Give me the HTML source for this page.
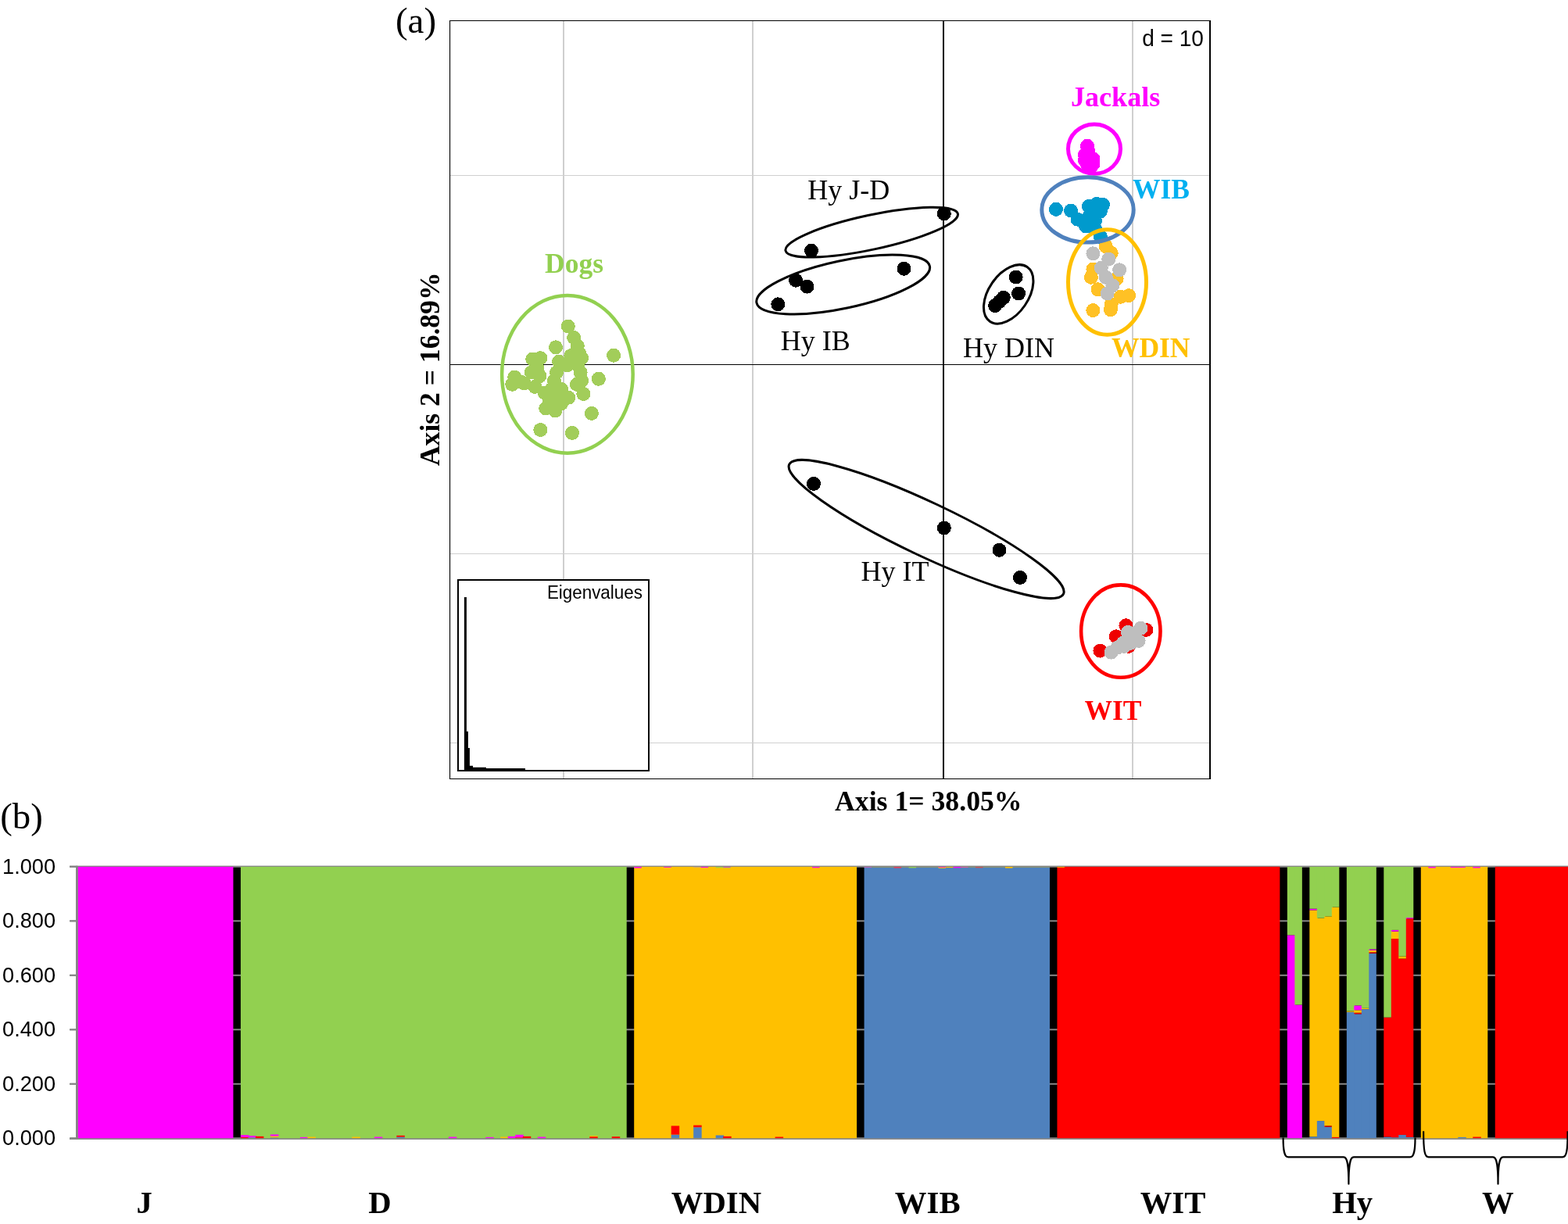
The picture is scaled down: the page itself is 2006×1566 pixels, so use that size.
<!DOCTYPE html>
<html lang="en">
<head>
<meta charset="utf-8">
<title>Figure: PCA and Bayesian assignment</title>
<style>
html,body{margin:0;padding:0;background:#fff;}
body{width:2006px;height:1566px;overflow:hidden;}
svg{display:block;}
text{white-space:pre;}
</style>
</head>
<body>
<svg width="2006" height="1566" viewBox="0 0 2006 1566">
<rect width="2006" height="1566" fill="#fff"/>
<g id="panel-a">
<rect x="720" y="27" width="2" height="969" fill="#cfcfcf"/>
<rect x="962" y="27" width="2" height="969" fill="#cfcfcf"/>
<rect x="1448" y="27" width="2" height="969" fill="#cfcfcf"/>
<rect x="576" y="224" width="971" height="1" fill="#d0d0d0"/>
<rect x="576" y="708" width="971" height="1" fill="#d0d0d0"/>
<rect x="576" y="950" width="971" height="1" fill="#d0d0d0"/>
<rect x="1206" y="27" width="2" height="969" fill="#000"/>
<rect x="576" y="466" width="971" height="1" fill="#000"/>
<rect x="575" y="26" width="974" height="1" fill="#000"/>
<rect x="575" y="996" width="974" height="1" fill="#000"/>
<rect x="575" y="26" width="1.1" height="971" fill="#000"/>
<rect x="1547" y="26" width="2" height="971" fill="#000"/>
<g fill="#a2cd5a" shape-rendering="crispEdges"><circle cx="726.8" cy="417.5" r="9.0"/><circle cx="711.0" cy="444.3" r="9.0"/><circle cx="785.1" cy="454.7" r="9.0"/><circle cx="765.9" cy="484.7" r="9.0"/><circle cx="756.9" cy="528.9" r="9.0"/><circle cx="691.4" cy="550.0" r="9.0"/><circle cx="732.0" cy="553.9" r="9.0"/><circle cx="734.2" cy="432.0" r="9.0"/><circle cx="738.8" cy="442.8" r="9.0"/><circle cx="741.1" cy="452.0" r="9.0"/><circle cx="744.1" cy="458.1" r="9.0"/><circle cx="730.3" cy="455.0" r="9.0"/><circle cx="715.0" cy="462.7" r="9.0"/><circle cx="725.7" cy="467.3" r="9.0"/><circle cx="739.5" cy="467.3" r="9.0"/><circle cx="742.6" cy="476.5" r="9.0"/><circle cx="744.1" cy="487.2" r="9.0"/><circle cx="738.0" cy="491.8" r="9.0"/><circle cx="746.4" cy="504.0" r="9.0"/><circle cx="712.0" cy="476.5" r="9.0"/><circle cx="708.9" cy="487.2" r="9.0"/><circle cx="681.3" cy="459.6" r="9.0"/><circle cx="691.3" cy="458.1" r="9.0"/><circle cx="687.4" cy="470.3" r="9.0"/><circle cx="679.8" cy="476.5" r="9.0"/><circle cx="690.5" cy="481.1" r="9.0"/><circle cx="658.3" cy="482.6" r="9.0"/><circle cx="655.2" cy="491.8" r="9.0"/><circle cx="666.0" cy="488.7" r="9.0"/><circle cx="670.6" cy="490.3" r="9.0"/><circle cx="684.4" cy="494.9" r="9.0"/><circle cx="696.6" cy="502.5" r="9.0"/><circle cx="705.8" cy="497.9" r="9.0"/><circle cx="718.1" cy="497.9" r="9.0"/><circle cx="727.3" cy="508.7" r="9.0"/><circle cx="715.0" cy="510.2" r="9.0"/><circle cx="702.8" cy="511.7" r="9.0"/><circle cx="698.2" cy="522.5" r="9.0"/><circle cx="710.4" cy="525.5" r="9.0"/><circle cx="718.1" cy="516.3" r="9.0"/></g>
<ellipse cx="725.9" cy="478.8" rx="83.8" ry="100.9" fill="none" stroke="#92d050" stroke-width="4.5"/>
<text x="734.5" y="348.6" font-family='"Liberation Serif", "DejaVu Serif", serif' font-size="35.5" font-weight="bold" fill="#92d050" text-anchor="middle">Dogs</text>
<g fill="#ff00ff" shape-rendering="crispEdges"><circle cx="1391.0" cy="186.8" r="9.0"/><circle cx="1392.0" cy="193.0" r="9.0"/><circle cx="1388.0" cy="198.0" r="9.0"/><circle cx="1388.0" cy="205.0" r="9.0"/><circle cx="1394.0" cy="203.0" r="9.0"/><circle cx="1398.3" cy="203.0" r="9.0"/><circle cx="1398.3" cy="210.0" r="9.0"/><circle cx="1391.0" cy="210.0" r="9.0"/><circle cx="1396.0" cy="213.2" r="9.0"/></g>
<ellipse cx="1400.0" cy="190.6" rx="33.5" ry="31.7" fill="none" stroke="#ff00ff" stroke-width="5.0"/>
<text x="1427.1" y="135.6" font-family='"Liberation Serif", "DejaVu Serif", serif' font-size="35.0" font-weight="bold" fill="#ff00ff" text-anchor="middle" textLength="114.4" lengthAdjust="spacingAndGlyphs">Jackals</text>
<g fill="#009acd" shape-rendering="crispEdges"><circle cx="1351.0" cy="267.8" r="9.0"/><circle cx="1370.0" cy="269.5" r="9.0"/><circle cx="1378.6" cy="280.7" r="9.0"/><circle cx="1393.0" cy="264.0" r="9.0"/><circle cx="1403.0" cy="261.0" r="9.0"/><circle cx="1411.0" cy="262.0" r="9.0"/><circle cx="1407.9" cy="270.3" r="9.0"/><circle cx="1394.1" cy="275.5" r="9.0"/><circle cx="1401.0" cy="282.4" r="9.0"/><circle cx="1389.0" cy="289.3" r="9.0"/><circle cx="1401.0" cy="292.8" r="9.0"/><circle cx="1408.0" cy="303.1" r="9.0"/></g>
<g fill="#ffc125" shape-rendering="crispEdges"><circle cx="1414.8" cy="315.2" r="9.0"/><circle cx="1421.7" cy="323.8" r="9.0"/><circle cx="1398.4" cy="344.5" r="9.0"/><circle cx="1395.9" cy="354.8" r="9.0"/><circle cx="1404.5" cy="370.3" r="9.0"/><circle cx="1428.6" cy="356.6" r="9.0"/><circle cx="1444.1" cy="378.1" r="9.0"/><circle cx="1433.8" cy="379.8" r="9.0"/><circle cx="1421.7" cy="389.3" r="9.0"/><circle cx="1420.9" cy="396.2" r="9.0"/><circle cx="1398.4" cy="397.1" r="9.0"/></g>
<g fill="#bebebe" shape-rendering="crispEdges"><circle cx="1398.4" cy="324.3" r="9.0"/><circle cx="1418.3" cy="331.6" r="9.0"/><circle cx="1408.8" cy="342.8" r="9.0"/><circle cx="1432.1" cy="345.3" r="9.0"/><circle cx="1414.8" cy="354.8" r="9.0"/><circle cx="1423.4" cy="365.2" r="9.0"/><circle cx="1416.6" cy="375.5" r="9.0"/></g>
<ellipse cx="1391.5" cy="268.4" rx="58.7" ry="41.7" fill="none" stroke="#4f81bd" stroke-width="5.0"/>
<ellipse cx="1416.5" cy="361.0" rx="50.0" ry="67.2" fill="none" stroke="#ffc000" stroke-width="5.0"/>
<text x="1485.5" y="253.9" font-family='"Liberation Serif", "DejaVu Serif", serif' font-size="35.5" font-weight="bold" fill="#00b0f0" text-anchor="middle">WIB</text>
<text x="1472.2" y="456.9" font-family='"Liberation Serif", "DejaVu Serif", serif' font-size="35.5" font-weight="bold" fill="#ffc000" text-anchor="middle">WDIN</text>
<g fill="#ee0000" shape-rendering="crispEdges"><circle cx="1440.4" cy="800.2" r="9.0"/><circle cx="1427.8" cy="814.3" r="9.0"/><circle cx="1407.4" cy="832.6" r="9.0"/><circle cx="1466.3" cy="805.9" r="9.0"/><circle cx="1444.0" cy="826.8" r="9.0"/></g>
<g fill="#bebebe" shape-rendering="crispEdges"><circle cx="1443.0" cy="809.0" r="9.0"/><circle cx="1446.8" cy="822.7" r="9.0"/><circle cx="1438.3" cy="826.9" r="9.0"/><circle cx="1459.4" cy="803.8" r="9.0"/><circle cx="1452.4" cy="810.1" r="9.0"/><circle cx="1456.6" cy="819.9" r="9.0"/><circle cx="1444.0" cy="815.7" r="9.0"/><circle cx="1436.9" cy="822.7" r="9.0"/><circle cx="1429.9" cy="828.3" r="9.0"/><circle cx="1421.5" cy="834.7" r="9.0"/></g>
<ellipse cx="1433.8" cy="807.6" rx="50.7" ry="59.2" fill="none" stroke="#ff0000" stroke-width="4.6"/>
<text x="1424.0" y="921.1" font-family='"Liberation Serif", "DejaVu Serif", serif' font-size="35.5" font-weight="bold" fill="#ff0000" text-anchor="middle">WIT</text>
<g fill="#000" shape-rendering="crispEdges"><circle cx="1207.8" cy="273.4" r="9.0"/><circle cx="1038.0" cy="320.7" r="9.0"/><circle cx="1156.5" cy="343.8" r="9.0"/><circle cx="1018.1" cy="358.6" r="9.0"/><circle cx="1032.5" cy="366.6" r="9.0"/><circle cx="995.3" cy="389.3" r="9.0"/><circle cx="1299.7" cy="354.5" r="9.0"/><circle cx="1303.1" cy="375.5" r="9.0"/><circle cx="1283.8" cy="380.7" r="9.0"/><circle cx="1273.1" cy="391.0" r="9.0"/><circle cx="1278.6" cy="385.9" r="9.0"/><circle cx="1041.0" cy="618.9" r="9.0"/><circle cx="1207.9" cy="675.5" r="9.0"/><circle cx="1278.5" cy="703.8" r="9.0"/><circle cx="1305.0" cy="738.9" r="9.0"/></g>
<ellipse cx="1115.2" cy="297.1" rx="112.7" ry="22.0" fill="none" stroke="#000" stroke-width="3.0" transform="rotate(-12.10 1115.2 297.1)"/>
<ellipse cx="1078.7" cy="364.0" rx="113.2" ry="30.5" fill="none" stroke="#000" stroke-width="3.0" transform="rotate(-12.00 1078.7 364.0)"/>
<ellipse cx="1290.2" cy="376.4" rx="42.2" ry="25.4" fill="none" stroke="#000" stroke-width="3.0" transform="rotate(-55.60 1290.2 376.4)"/>
<ellipse cx="1185.1" cy="677.0" rx="194.0" ry="34.3" fill="none" stroke="#000" stroke-width="3.0" transform="rotate(25.30 1185.1 677.0)"/>
<text x="1085.7" y="254.5" font-family='"Liberation Serif", "DejaVu Serif", serif' font-size="36.0" font-weight="normal" fill="#000" text-anchor="middle">Hy J-D</text>
<text x="1043.2" y="447.8" font-family='"Liberation Serif", "DejaVu Serif", serif' font-size="36.0" font-weight="normal" fill="#000" text-anchor="middle">Hy IB</text>
<text x="1290.5" y="457.4" font-family='"Liberation Serif", "DejaVu Serif", serif' font-size="36.0" font-weight="normal" fill="#000" text-anchor="middle">Hy DIN</text>
<text x="1145.0" y="743.1" font-family='"Liberation Serif", "DejaVu Serif", serif' font-size="36.0" font-weight="normal" fill="#000" text-anchor="middle">Hy IT</text>
<rect x="586" y="742" width="244" height="244" fill="#fff" stroke="#000" stroke-width="2"/>
<polygon points="593.9,986.0 593.9,763.9 596.9,763.9 596.9,935.7 598.9,935.7 598.9,957.0 600.9,957.0 600.9,979.8 605.0,979.8 605.0,981.7 622.0,981.7 622.0,983.0 672.0,983.0 672.0,986.0" fill="#000"/>
<text x="821.9" y="765.7" font-family='"Liberation Sans", "DejaVu Sans", sans-serif' font-size="24.8" font-weight="normal" fill="#000" text-anchor="end" textLength="122" lengthAdjust="spacingAndGlyphs">Eigenvalues</text>
<text x="1539.9" y="58.9" font-family='"Liberation Sans", "DejaVu Sans", sans-serif' font-size="29.8" font-weight="normal" fill="#000" text-anchor="end" textLength="78.7" lengthAdjust="spacingAndGlyphs">d = 10</text>
<text x="1187.8" y="1037.1" font-family='"Liberation Serif", "DejaVu Serif", serif' font-size="35.7" font-weight="bold" fill="#000" text-anchor="middle">Axis 1= 38.05%</text>
<text transform="translate(562 472.3) rotate(-90)" font-family='"Liberation Serif", "DejaVu Serif", serif' font-size="35.6" font-weight="bold" text-anchor="middle">Axis 2 = 16.89%</text>
<text x="505.9" y="42.2" font-family='"Liberation Serif", "DejaVu Serif", serif' font-size="47.0" font-weight="normal" fill="#000" text-anchor="start">(a)</text>
</g>
<g id="panel-b">
<g>
<text x="0.2" y="1060.4" font-family='"Liberation Serif", "DejaVu Serif", serif' font-size="46.8" font-weight="normal" fill="#000" text-anchor="start">(b)</text>
<rect x="99.0" y="1108.8" width="1909.0" height="347.5" fill="#000"/>
<rect x="89.5" y="1107.8" width="1919.0" height="2.0" fill="#868686"/>
<rect x="89.5" y="1177.3" width="1919.0" height="2.0" fill="#868686"/>
<rect x="89.5" y="1246.8" width="1919.0" height="2.0" fill="#868686"/>
<rect x="89.5" y="1316.3" width="1919.0" height="2.0" fill="#868686"/>
<rect x="89.5" y="1385.8" width="1919.0" height="2.0" fill="#868686"/>
<rect x="89.5" y="1455.3" width="1919.0" height="2.0" fill="#868686"/>
<rect x="99.00" y="1108.7" width="199.42" height="347.9" fill="#ff00ff"/>
<rect x="307.91" y="1108.7" width="493.79" height="347.9" fill="#92d050"/>
<rect x="811.20" y="1108.7" width="284.88" height="347.9" fill="#ffc000"/>
<rect x="1105.58" y="1108.7" width="237.40" height="347.9" fill="#4f81bd"/>
<rect x="1352.47" y="1108.7" width="284.88" height="347.9" fill="#ff0000"/>
<rect x="1817.78" y="1108.7" width="85.46" height="347.9" fill="#ffc000"/>
<rect x="1912.74" y="1108.7" width="104.46" height="347.9" fill="#ff0000"/>
<rect x="1646.85" y="1196.37" width="10.50" height="259.93" fill="#ff00ff"/>
<rect x="1646.85" y="1108.80" width="10.50" height="87.57" fill="#92d050"/>
<rect x="1656.34" y="1285.50" width="9.50" height="170.80" fill="#ff00ff"/>
<rect x="1656.34" y="1108.80" width="9.50" height="176.70" fill="#92d050"/>
<rect x="1675.34" y="1454.21" width="10.50" height="2.09" fill="#4f81bd"/>
<rect x="1675.34" y="1164.40" width="10.50" height="289.81" fill="#ffc000"/>
<rect x="1675.34" y="1162.66" width="10.50" height="1.74" fill="#ff00ff"/>
<rect x="1675.34" y="1108.80" width="10.50" height="53.86" fill="#92d050"/>
<rect x="1684.83" y="1434.06" width="10.50" height="22.24" fill="#4f81bd"/>
<rect x="1684.83" y="1174.65" width="10.50" height="259.41" fill="#ffc000"/>
<rect x="1684.83" y="1108.80" width="10.50" height="65.85" fill="#92d050"/>
<rect x="1694.33" y="1441.70" width="10.50" height="14.60" fill="#4f81bd"/>
<rect x="1694.33" y="1440.32" width="10.50" height="1.39" fill="#ff0000"/>
<rect x="1694.33" y="1172.39" width="10.50" height="267.92" fill="#ffc000"/>
<rect x="1694.33" y="1108.80" width="10.50" height="63.59" fill="#92d050"/>
<rect x="1703.82" y="1454.91" width="9.50" height="1.39" fill="#ff0000"/>
<rect x="1703.82" y="1160.58" width="9.50" height="294.33" fill="#ffc000"/>
<rect x="1703.82" y="1108.80" width="9.50" height="51.78" fill="#92d050"/>
<rect x="1722.82" y="1294.82" width="10.50" height="161.48" fill="#4f81bd"/>
<rect x="1722.82" y="1293.67" width="10.50" height="1.15" fill="#ffc000"/>
<rect x="1722.82" y="1108.80" width="10.50" height="184.87" fill="#92d050"/>
<rect x="1732.31" y="1297.28" width="10.50" height="159.02" fill="#4f81bd"/>
<rect x="1732.31" y="1295.75" width="10.50" height="1.53" fill="#ff0000"/>
<rect x="1732.31" y="1292.28" width="10.50" height="3.47" fill="#ffc000"/>
<rect x="1732.31" y="1286.37" width="10.50" height="5.91" fill="#ff00ff"/>
<rect x="1732.31" y="1108.80" width="10.50" height="177.57" fill="#92d050"/>
<rect x="1741.81" y="1291.10" width="10.50" height="165.20" fill="#4f81bd"/>
<rect x="1741.81" y="1289.85" width="10.50" height="1.25" fill="#ffc000"/>
<rect x="1741.81" y="1108.80" width="10.50" height="181.05" fill="#92d050"/>
<rect x="1751.30" y="1219.65" width="9.50" height="236.65" fill="#4f81bd"/>
<rect x="1751.30" y="1218.26" width="9.50" height="1.39" fill="#ff0000"/>
<rect x="1751.30" y="1215.83" width="9.50" height="2.43" fill="#ffc000"/>
<rect x="1751.30" y="1214.44" width="9.50" height="1.39" fill="#ff00ff"/>
<rect x="1751.30" y="1108.80" width="9.50" height="105.64" fill="#92d050"/>
<rect x="1770.30" y="1454.56" width="10.50" height="1.74" fill="#4f81bd"/>
<rect x="1770.30" y="1301.66" width="10.50" height="152.90" fill="#ff0000"/>
<rect x="1770.30" y="1108.80" width="10.50" height="192.86" fill="#92d050"/>
<rect x="1779.79" y="1455.26" width="10.50" height="1.04" fill="#4f81bd"/>
<rect x="1779.79" y="1201.03" width="10.50" height="254.23" fill="#ff0000"/>
<rect x="1779.79" y="1191.71" width="10.50" height="9.31" fill="#ffc000"/>
<rect x="1779.79" y="1189.87" width="10.50" height="1.84" fill="#ff00ff"/>
<rect x="1779.79" y="1108.80" width="10.50" height="81.07" fill="#92d050"/>
<rect x="1789.29" y="1451.96" width="10.50" height="4.34" fill="#4f81bd"/>
<rect x="1789.29" y="1226.50" width="10.50" height="225.46" fill="#ff0000"/>
<rect x="1789.29" y="1223.47" width="10.50" height="3.02" fill="#ffc000"/>
<rect x="1789.29" y="1108.80" width="10.50" height="114.67" fill="#92d050"/>
<rect x="1798.78" y="1454.91" width="9.50" height="1.39" fill="#4f81bd"/>
<rect x="1798.78" y="1175.28" width="9.50" height="279.63" fill="#ff0000"/>
<rect x="1798.78" y="1174.13" width="9.50" height="1.15" fill="#ff00ff"/>
<rect x="1798.78" y="1108.80" width="9.50" height="65.33" fill="#92d050"/>
<rect x="307.91" y="1454.91" width="10.50" height="1.39" fill="#ff0000"/>
<rect x="307.91" y="1452.13" width="10.50" height="2.78" fill="#ff00ff"/>
<rect x="317.41" y="1455.26" width="10.50" height="1.04" fill="#4f81bd"/>
<rect x="317.41" y="1453.17" width="10.50" height="2.09" fill="#ff00ff"/>
<rect x="326.90" y="1453.87" width="10.50" height="2.43" fill="#ff0000"/>
<rect x="345.90" y="1455.26" width="10.50" height="1.04" fill="#4f81bd"/>
<rect x="345.90" y="1453.52" width="10.50" height="1.74" fill="#ffc000"/>
<rect x="345.90" y="1451.43" width="10.50" height="2.09" fill="#ff00ff"/>
<rect x="383.88" y="1454.91" width="10.50" height="1.39" fill="#ff00ff"/>
<rect x="393.38" y="1454.56" width="10.50" height="1.74" fill="#ffc000"/>
<rect x="450.35" y="1454.56" width="10.50" height="1.74" fill="#ffc000"/>
<rect x="478.84" y="1454.56" width="10.50" height="1.74" fill="#ff00ff"/>
<rect x="507.33" y="1454.56" width="10.50" height="1.74" fill="#4f81bd"/>
<rect x="507.33" y="1452.83" width="10.50" height="1.74" fill="#ff0000"/>
<rect x="573.80" y="1454.56" width="10.50" height="1.74" fill="#ff00ff"/>
<rect x="621.28" y="1454.91" width="10.50" height="1.39" fill="#ff00ff"/>
<rect x="640.27" y="1454.56" width="10.50" height="1.74" fill="#ffc000"/>
<rect x="649.77" y="1453.87" width="10.50" height="2.43" fill="#ff00ff"/>
<rect x="659.26" y="1455.26" width="10.50" height="1.04" fill="#ff0000"/>
<rect x="659.26" y="1451.78" width="10.50" height="3.47" fill="#ff00ff"/>
<rect x="668.76" y="1453.87" width="10.50" height="2.43" fill="#ff0000"/>
<rect x="687.75" y="1454.56" width="10.50" height="1.74" fill="#ff00ff"/>
<rect x="754.22" y="1454.21" width="10.50" height="2.09" fill="#ff0000"/>
<rect x="754.22" y="1453.17" width="10.50" height="1.04" fill="#ffc000"/>
<rect x="782.71" y="1454.21" width="10.50" height="2.09" fill="#ff0000"/>
<rect x="858.68" y="1451.61" width="10.50" height="4.69" fill="#4f81bd"/>
<rect x="858.68" y="1440.42" width="10.50" height="11.19" fill="#ff0000"/>
<rect x="887.17" y="1442.19" width="10.50" height="14.11" fill="#4f81bd"/>
<rect x="887.17" y="1439.62" width="10.50" height="2.57" fill="#ff0000"/>
<rect x="915.66" y="1452.48" width="10.50" height="3.82" fill="#4f81bd"/>
<rect x="925.15" y="1453.87" width="10.50" height="2.43" fill="#ff0000"/>
<rect x="991.62" y="1454.56" width="10.50" height="1.74" fill="#ff0000"/>
<rect x="1865.26" y="1454.91" width="10.50" height="1.39" fill="#4f81bd"/>
<rect x="1884.25" y="1454.56" width="10.50" height="1.74" fill="#ff0000"/>
<rect x="811.20" y="1109.10" width="9.50" height="1.50" fill="#ff00ff" shape-rendering="auto"/>
<rect x="849.18" y="1109.10" width="9.50" height="0.80" fill="#ff00ff" shape-rendering="auto"/>
<rect x="887.17" y="1109.10" width="9.50" height="0.80" fill="#c9a08a" shape-rendering="auto"/>
<rect x="896.66" y="1109.10" width="9.50" height="1.00" fill="#ff00ff" shape-rendering="auto"/>
<rect x="915.66" y="1109.10" width="9.50" height="1.20" fill="#92d050" shape-rendering="auto"/>
<rect x="925.15" y="1109.10" width="9.50" height="1.40" fill="#92d050" shape-rendering="auto"/>
<rect x="1039.10" y="1109.10" width="9.50" height="1.20" fill="#ff00ff" shape-rendering="auto"/>
<rect x="925.15" y="1109.10" width="9.50" height="0.60" fill="#ff00ff" shape-rendering="auto"/>
<rect x="1105.58" y="1109.10" width="237.40" height="0.80" fill="#9a9a5c" shape-rendering="auto"/>
<rect x="1105.58" y="1109.10" width="9.50" height="1.00" fill="#c060c0" shape-rendering="auto"/>
<rect x="1143.56" y="1109.10" width="9.50" height="1.60" fill="#e04060" shape-rendering="auto"/>
<rect x="1162.55" y="1109.10" width="9.50" height="1.40" fill="#92d050" shape-rendering="auto"/>
<rect x="1200.54" y="1109.10" width="9.50" height="1.80" fill="#ffc000" shape-rendering="auto"/>
<rect x="1210.03" y="1109.10" width="9.50" height="1.00" fill="#ffc000" shape-rendering="auto"/>
<rect x="1219.53" y="1109.10" width="9.50" height="1.30" fill="#ff00ff" shape-rendering="auto"/>
<rect x="1229.02" y="1109.10" width="9.50" height="1.00" fill="#e060a0" shape-rendering="auto"/>
<rect x="1248.02" y="1109.10" width="9.50" height="1.30" fill="#d05050" shape-rendering="auto"/>
<rect x="1286.00" y="1109.10" width="9.50" height="1.60" fill="#ffc000" shape-rendering="auto"/>
<rect x="1200.54" y="1109.10" width="9.50" height="0.70" fill="#ff00ff" shape-rendering="auto"/>
<rect x="1352.47" y="1109.10" width="9.50" height="0.90" fill="#ffc000" shape-rendering="auto"/>
<rect x="1827.27" y="1109.10" width="9.50" height="1.40" fill="#ff00ff" shape-rendering="auto"/>
<rect x="1855.76" y="1109.10" width="9.50" height="1.00" fill="#ff00ff" shape-rendering="auto"/>
<rect x="1865.26" y="1109.10" width="9.50" height="1.00" fill="#ff00ff" shape-rendering="auto"/>
<rect x="1884.25" y="1109.10" width="9.50" height="1.40" fill="#ff00ff" shape-rendering="auto"/>
</g>
<rect x="97.0" y="1107.8" width="2.9" height="349.7" fill="#868686"/>
<rect x="89.0" y="1456.4" width="1926.0" height="1.5" fill="#868686"/>
<rect x="89.0" y="1455.4" width="10" height="2.1" fill="#868686"/>
<rect x="89.0" y="1107.8" width="1926.0" height="1.0" fill="#868686"/>
<rect x="89.0" y="1107.8" width="10" height="2.1" fill="#868686"/>
<text x="71.1" y="1117.7" font-family='"Liberation Sans", "DejaVu Sans", sans-serif' font-size="27.2" font-weight="normal" fill="#000" text-anchor="end">1.000</text>
<text x="71.1" y="1187.2" font-family='"Liberation Sans", "DejaVu Sans", sans-serif' font-size="27.2" font-weight="normal" fill="#000" text-anchor="end">0.800</text>
<rect x="89.0" y="1177.3" width="9" height="2.0" fill="#868686"/>
<text x="71.1" y="1256.7" font-family='"Liberation Sans", "DejaVu Sans", sans-serif' font-size="27.2" font-weight="normal" fill="#000" text-anchor="end">0.600</text>
<rect x="89.0" y="1246.8" width="9" height="2.0" fill="#868686"/>
<text x="71.1" y="1326.2" font-family='"Liberation Sans", "DejaVu Sans", sans-serif' font-size="27.2" font-weight="normal" fill="#000" text-anchor="end">0.400</text>
<rect x="89.0" y="1316.3" width="9" height="2.0" fill="#868686"/>
<text x="71.1" y="1395.7" font-family='"Liberation Sans", "DejaVu Sans", sans-serif' font-size="27.2" font-weight="normal" fill="#000" text-anchor="end">0.200</text>
<rect x="89.0" y="1385.8" width="9" height="2.0" fill="#868686"/>
<text x="71.1" y="1465.2" font-family='"Liberation Sans", "DejaVu Sans", sans-serif' font-size="27.2" font-weight="normal" fill="#000" text-anchor="end">0.000</text>
<path d="M1641.6 1455.4 C1641.6 1472.4 1643.1 1480.4 1648.1 1480.4 L1718.9 1480.4 C1723.9 1480.4 1725.4 1490.4 1725.4 1514.7 C1725.4 1490.4 1726.9 1480.4 1731.9 1480.4 L1804.0 1480.4 C1809.0 1480.4 1810.5 1472.4 1810.5 1455.4" fill="none" stroke="#000" stroke-width="2.2" stroke-linejoin="round"/>
<path d="M1821.1 1447.3 C1821.1 1472.4 1822.6 1480.4 1827.6 1480.4 L1910.0 1480.4 C1915.0 1480.4 1916.5 1490.4 1916.5 1514.7 C1916.5 1490.4 1918.0 1480.4 1923.0 1480.4 L1999.1 1480.4 C2004.1 1480.4 2005.6 1472.4 2005.6 1447.3" fill="none" stroke="#000" stroke-width="2.2" stroke-linejoin="round"/>
<text x="184.6" y="1551.6" font-family='"Liberation Serif", "DejaVu Serif", serif' font-size="40.7" font-weight="bold" fill="#000" text-anchor="middle">J</text>
<text x="485.9" y="1551.6" font-family='"Liberation Serif", "DejaVu Serif", serif' font-size="40.7" font-weight="bold" fill="#000" text-anchor="middle">D</text>
<text x="916.4" y="1551.6" font-family='"Liberation Serif", "DejaVu Serif", serif' font-size="40.7" font-weight="bold" fill="#000" text-anchor="middle">WDIN</text>
<text x="1186.7" y="1551.6" font-family='"Liberation Serif", "DejaVu Serif", serif' font-size="40.7" font-weight="bold" fill="#000" text-anchor="middle">WIB</text>
<text x="1500.5" y="1551.6" font-family='"Liberation Serif", "DejaVu Serif", serif' font-size="40.7" font-weight="bold" fill="#000" text-anchor="middle">WIT</text>
<text x="1730.2" y="1551.6" font-family='"Liberation Serif", "DejaVu Serif", serif' font-size="40.7" font-weight="bold" fill="#000" text-anchor="middle">Hy</text>
<text x="1916.3" y="1551.6" font-family='"Liberation Serif", "DejaVu Serif", serif' font-size="40.7" font-weight="bold" fill="#000" text-anchor="middle">W</text>
</g>
</svg>
</body>
</html>
